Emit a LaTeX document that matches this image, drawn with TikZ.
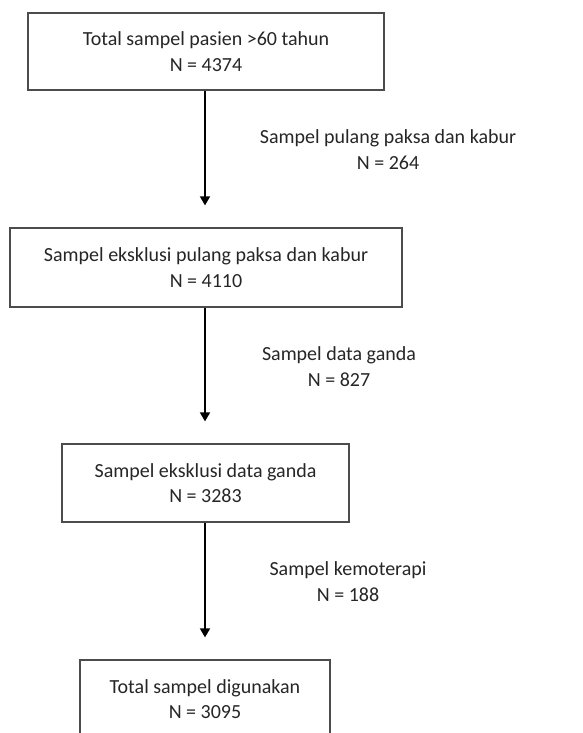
\documentclass[tikz,border=0pt]{standalone}
\usepackage{fontspec}
\setmainfont{Carlito}
\usetikzlibrary{arrows.meta}
\begin{document}
\begin{tikzpicture}[x=1pt,y=1pt,
  stagebox/.style={draw=black!70, line width=1.2pt, align=center, inner sep=0pt,
    font=\fontsize{20}{25.5}\selectfont, text=black!85},
  flowarrow/.style={draw=black, line width=1.6pt, -{Triangle[width=10pt,length=9pt]}},
  sidelabel/.style={align=center, font=\fontsize{20}{26}\selectfont, text=black!85}]
\clip (0,0) rectangle (582,-733);
\fill[white] (0,0) rectangle (582,-733);
\node[stagebox, minimum width=356pt, minimum height=77pt] (b1) at (206,-51.5)
  {Total sampel pasien >60 tahun\\N = 4374};
\node[stagebox, minimum width=392pt, minimum height=79pt] (b2) at (206,-267.5)
  {Sampel eksklusi pulang paksa dan kabur\\N = 4110};
\node[stagebox, minimum width=287pt, minimum height=78pt] (b3) at (205.5,-483)
  {Sampel eksklusi data ganda\\N = 3283};
\node[stagebox, minimum width=250pt, minimum height=78pt] (b4) at (205,-699)
  {Total sampel digunakan\\N = 3095};
\node[sidelabel] (l1) at (388,-150) {Sampel pulang paksa dan kabur\\N = 264};
\node[sidelabel] (l2) at (339,-367) {Sampel data ganda\\N = 827};
\node[sidelabel] (l3) at (348,-582) {Sampel kemoterapi\\N = 188};
\draw[flowarrow, shorten >=22pt] (b1.south -| 205,0) -- (b2.north -| 205,0);
\draw[flowarrow, shorten >=22pt] (b2.south -| 205,0) -- (b3.north -| 205,0);
\draw[flowarrow, shorten >=22pt] (b3.south -| 205,0) -- (b4.north -| 205,0);
\end{tikzpicture}
\end{document}
